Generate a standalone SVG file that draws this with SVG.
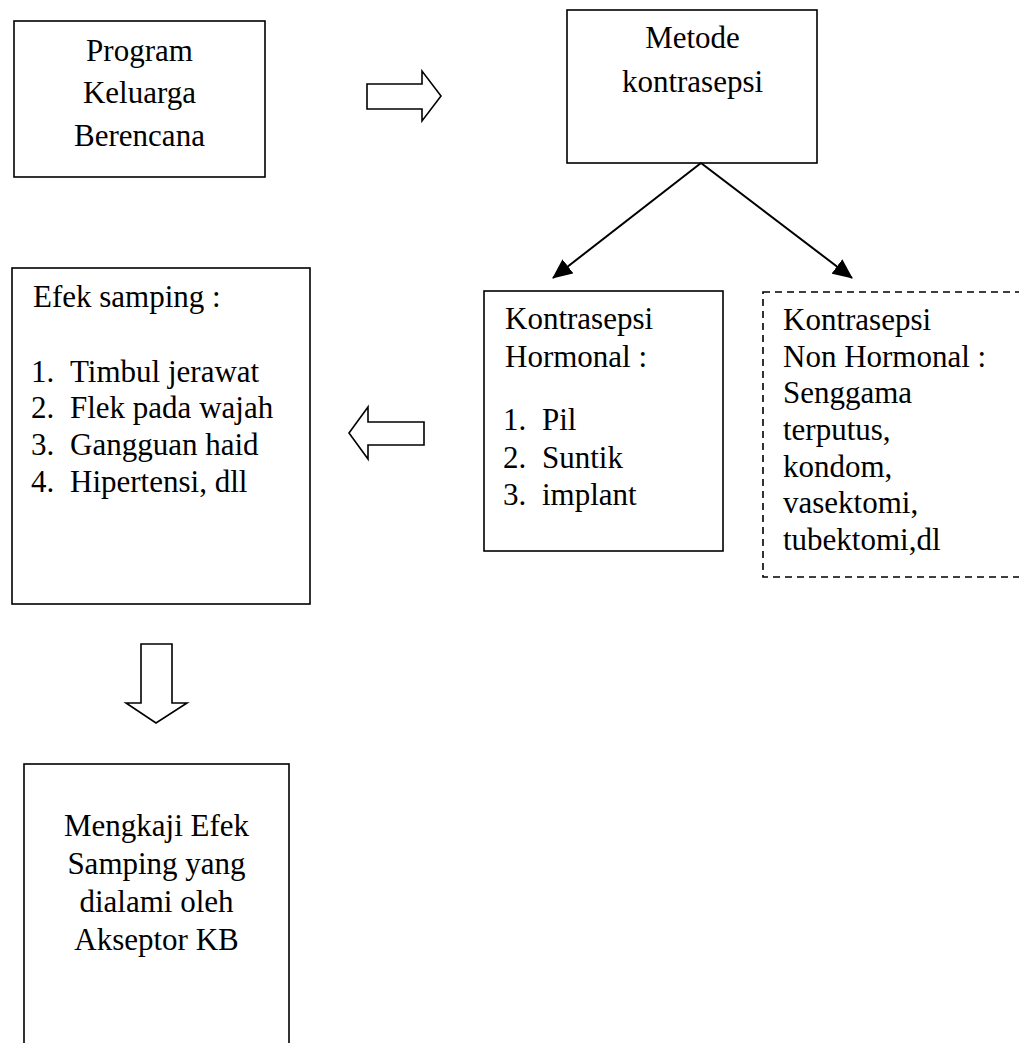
<svg xmlns="http://www.w3.org/2000/svg" width="1019" height="1043" viewBox="0 0 1019 1043">
<style>
.box{fill:#fff;stroke:#000;stroke-width:1.6}
.dash{fill:#fff;stroke:#000;stroke-width:1.6;stroke-dasharray:7,5}
.blk{fill:#fff;stroke:#000;stroke-width:1.6;stroke-linejoin:miter}
.t{font-family:'Liberation Serif','Times New Roman','DejaVu Serif',serif;font-size:31px;fill:#000}
.c{text-anchor:middle}
.ln{stroke:#000;stroke-width:2;fill:none}
</style>
<defs>
<marker id="ah2" markerWidth="20" markerHeight="18" refX="19" refY="9" orient="auto" markerUnits="userSpaceOnUse">
<path d="M0,0 L20,9 L0,18 z" fill="#000"/>
</marker>
</defs>
<rect width="1019" height="1043" fill="#fff"/>
<g id="program">
<rect class="box" x="14" y="21" width="251" height="156"/>
<text class="t c" x="139.5" y="61">Program</text>
<text class="t c" x="139.5" y="103">Keluarga</text>
<text class="t c" x="139.5" y="146">Berencana</text>
</g>
<g id="metode">
<rect class="box" x="567" y="10" width="250" height="153"/>
<text class="t c" x="692.5" y="48">Metode</text>
<text class="t c" x="692.5" y="92">kontrasepsi</text>
</g>
<g id="hormonal">
<rect class="box" x="484" y="291" width="239" height="260"/>
<text class="t" x="505" y="329">Kontrasepsi</text>
<text class="t" x="505" y="367">Hormonal :</text>
<text class="t" x="503" y="430">1.</text><text class="t" x="542" y="430">Pil</text>
<text class="t" x="503" y="468">2.</text><text class="t" x="542" y="468">Suntik</text>
<text class="t" x="503" y="505">3.</text><text class="t" x="542" y="505">implant</text>
</g>
<g id="nonhormonal">
<rect class="dash" x="763" y="292" width="280" height="285"/>
<text class="t" x="783" y="330">Kontrasepsi</text>
<text class="t" x="783" y="367">Non Hormonal :</text>
<text class="t" x="783" y="403">Senggama</text>
<text class="t" x="783" y="440">terputus,</text>
<text class="t" x="783" y="477">kondom,</text>
<text class="t" x="783" y="513">vasektomi,</text>
<text class="t" x="783" y="550">tubektomi,dl</text>
</g>
<g id="efek">
<rect class="box" x="12" y="268" width="298" height="336"/>
<text class="t" x="33" y="307">Efek samping :</text>
<text class="t" x="31" y="382">1.</text><text class="t" x="70" y="382">Timbul jerawat</text>
<text class="t" x="31" y="418">2.</text><text class="t" x="70" y="418">Flek pada wajah</text>
<text class="t" x="31" y="455">3.</text><text class="t" x="70" y="455">Gangguan haid</text>
<text class="t" x="31" y="492">4.</text><text class="t" x="70" y="492">Hipertensi, dll</text>
</g>
<g id="mengkaji">
<rect class="box" x="24" y="764" width="265" height="300"/>
<text class="t c" x="156.5" y="836">Mengkaji Efek</text>
<text class="t c" x="156.5" y="874">Samping yang</text>
<text class="t c" x="156.5" y="912">dialami oleh</text>
<text class="t c" x="156.5" y="950">Akseptor KB</text>
</g>
<g id="connectors">
<path class="blk" d="M367,84 H422 V71 L441,96 L422,121 V109 H367 Z"/>
<path class="blk" d="M424,422 H368 V407 L349,433 L368,459 V445 H424 Z"/>
<path class="blk" d="M141,644 H172 V703 H187 L156,723 L126,703 H141 Z"/>
<line class="ln" x1="701" y1="163" x2="553" y2="278" marker-end="url(#ah2)"/>
<line class="ln" x1="701" y1="163" x2="852" y2="278" marker-end="url(#ah2)"/>
</g>
</svg>
